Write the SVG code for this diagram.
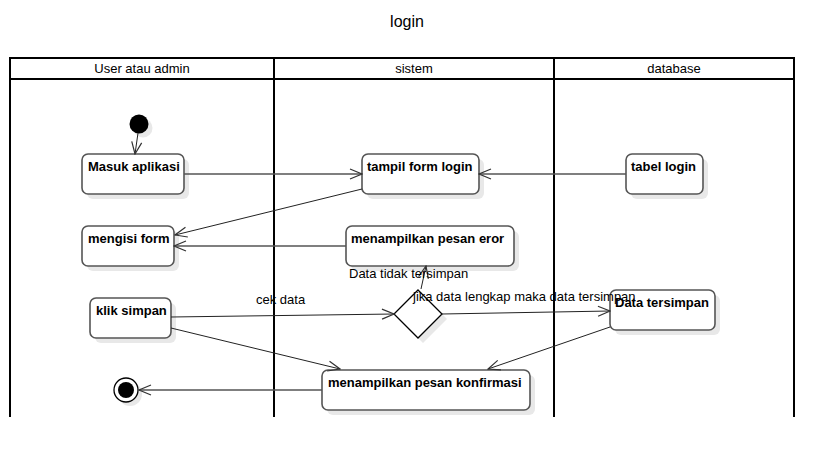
<svg xmlns="http://www.w3.org/2000/svg" width="834" height="458" viewBox="0 0 834 458">
<defs>
<style>
.lane{fill:none;stroke:#000;stroke-width:2}
.hdr{font-family:"Liberation Sans",Arial,sans-serif;font-size:13px;fill:#000;text-anchor:middle}
.title{font-family:"Liberation Sans",Arial,sans-serif;font-size:16px;fill:#000;text-anchor:middle}
.box{fill:#fff;stroke:#555;stroke-width:1.6}
.shadow{fill:#e8e8e8;stroke:none}
.lbl{font-family:"Liberation Sans",Arial,sans-serif;font-size:13px;font-weight:bold;fill:#000}
.elbl{font-family:"Liberation Sans",Arial,sans-serif;font-size:13px;fill:#000}
.conn{fill:none;stroke:#555;stroke-width:1.3}
.connd{fill:none;stroke:#222;stroke-width:1}
</style>
<marker id="arr" viewBox="0 0 14 12" refX="13" refY="6" markerWidth="14" markerHeight="12" markerUnits="userSpaceOnUse" orient="auto">
<path d="M1,1 L13,6 L1,11" fill="none" stroke="#333" stroke-width="1.2"/>
</marker>
</defs>
<rect width="834" height="458" fill="#fff"/>
<text class="title" x="407" y="27">login</text>
<g id="swimlanes">
<path class="lane" d="M10,417 V58 H794 V417 M10,79 H794 M274,58 V417 M554,58 V417"/>
<text class="hdr" x="142" y="73">User atau admin</text>
<text class="hdr" x="414" y="73">sistem</text>
<text class="hdr" x="674" y="73">database</text>
</g>
<g id="start">
<circle class="shadow" cx="143" cy="128" r="9.5"/>
<circle cx="139" cy="124" r="9.5" fill="#000"/>
</g>
<g id="masuk-aplikasi">
<rect class="shadow" x="87" y="159" width="102" height="40" rx="6"/>
<rect class="box" x="82" y="154" width="102" height="40" rx="6"/>
<text class="lbl" x="88" y="171">Masuk aplikasi</text>
</g>
<g id="tampil-form-login">
<rect class="shadow" x="367" y="159" width="117" height="40" rx="6"/>
<rect class="box" x="362" y="154" width="117" height="40" rx="6"/>
<text class="lbl" x="367" y="171">tampil form login</text>
</g>
<g id="tabel-login">
<rect class="shadow" x="631" y="159" width="77" height="40" rx="6"/>
<rect class="box" x="626" y="154" width="77" height="40" rx="6"/>
<text class="lbl" x="631" y="171">tabel login</text>
</g>
<g id="mengisi-form">
<rect class="shadow" x="87" y="231" width="92" height="40" rx="6"/>
<rect class="box" x="82" y="226" width="92" height="40" rx="6"/>
<text class="lbl" x="88" y="243">mengisi form</text>
</g>
<g id="pesan-eror">
<rect class="shadow" x="351" y="231" width="168" height="40" rx="6"/>
<rect class="box" x="346" y="226" width="168" height="40" rx="6"/>
<text class="lbl" x="351" y="243">menampilkan pesan eror</text>
</g>
<g id="klik-simpan">
<rect class="shadow" x="95" y="303" width="81" height="40" rx="6"/>
<rect class="box" x="90" y="298" width="81" height="40" rx="6"/>
<text class="lbl" x="96" y="315">klik simpan</text>
</g>
<g id="decision">
<path class="shadow" d="M423,295 L447,319 L423,343 L399,319 Z"/>
<path d="M418,290 L442,314 L418,338 L394,314 Z" fill="#fff" stroke="#000" stroke-width="1.3"/>
</g>
<g id="data-tersimpan">
<rect class="shadow" x="615" y="295" width="105" height="40" rx="6"/>
<rect class="box" x="610" y="290" width="105" height="40" rx="6"/>
<text class="lbl" x="615" y="307">Data tersimpan</text>
</g>
<g id="pesan-konfirmasi">
<rect class="shadow" x="327" y="375" width="208" height="40" rx="6"/>
<rect class="box" x="322" y="370" width="208" height="40" rx="6"/>
<text class="lbl" x="328" y="387">menampilkan pesan konfirmasi</text>
</g>
<g id="end">
<circle class="shadow" cx="130" cy="394" r="12"/>
<circle cx="126" cy="390" r="12" fill="#fff" stroke="#000" stroke-width="1.3"/>
<circle cx="126" cy="390" r="8" fill="#000"/>
</g>
<g id="connectors">
<path class="connd" d="M138,133 L135,154" marker-end="url(#arr)"/>
<path class="conn" d="M184,174 L362,174" marker-end="url(#arr)"/>
<path class="conn" d="M626,174 L479,174" marker-end="url(#arr)"/>
<path class="connd" d="M362,189 L175,235" marker-end="url(#arr)"/>
<path class="conn" d="M346,246 L174,246" marker-end="url(#arr)"/>
<path class="connd" d="M171,317 L394,314" marker-end="url(#arr)"/>
<path class="connd" d="M421,289 L426,266" marker-end="url(#arr)"/>
<path class="connd" d="M442,314 L610,311" marker-end="url(#arr)"/>
<path class="connd" d="M171,328 L340,369" marker-end="url(#arr)"/>
<path class="connd" d="M610,327 L488,369" marker-end="url(#arr)"/>
<path class="conn" d="M322,390 L139,390" marker-end="url(#arr)"/>
<text class="elbl" x="256" y="304">cek data</text>
<text class="elbl" x="349" y="278">Data tidak tersimpan</text>
<text class="elbl" x="413" y="301">jika data lengkap maka data tersimpan</text>
</g>
</svg>
